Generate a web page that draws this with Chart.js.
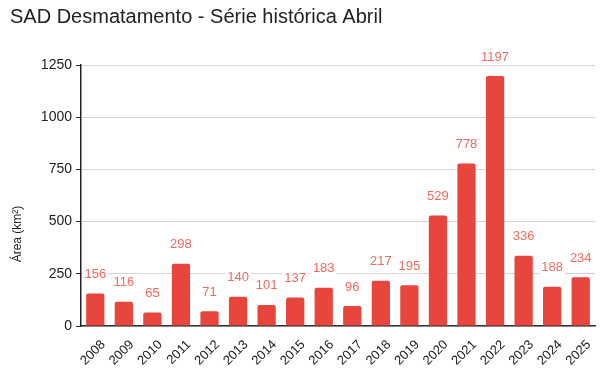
<!DOCTYPE html>
<html>
<head>
<meta charset="utf-8">
<script src="https://cdn.jsdelivr.net/npm/chart.js@4"></script>
<style>
  html, body { margin: 0; padding: 0; background: #fff; }
  #wrap { width: 602px; height: 372px; }
</style>
</head>
<body>
<div id="wrap"><canvas id="c" width="602" height="372"></canvas></div>
<script>
  // SAD Desmatamento - abril, área em km²
  var YEARS = ["2008", "2009", "2010", "2011", "2012", "2013", "2014", "2015", "2016",
    "2017", "2018", "2019", "2020", "2021", "2022", "2023", "2024", "2025"];
  var AREA = [156, 116, 65, 298, 71, 140, 101, 137, 183, 96, 217, 195, 529, 778, 1197, 336, 188, 234];
  var Y_TICKS = [0, 250, 500, 750, 1000, 1250];

  var BAR = "#e8453c", LABEL = "#f26a5e", FONT = "'Liberation Sans', Arial, sans-serif";

  // rótulos de valor acima das barras (fundo branco corta a grade)
  var valueLabels = {
    id: "valueLabels",
    afterDatasetsDraw: function (chart) {
      var ctx = chart.ctx, meta = chart.getDatasetMeta(0);
      ctx.save();
      ctx.font = "13px " + FONT;
      ctx.textAlign = "center";
      ctx.textBaseline = "middle";
      meta.data.forEach(function (bar, i) {
        var txt = String(AREA[i]);
        var y = bar.y - 19;
        var w = ctx.measureText(txt).width;
        ctx.fillStyle = "#fff";
        ctx.fillRect(bar.x - w / 2 - 2, y - 7, w + 4, 14);
        ctx.fillStyle = LABEL;
        ctx.fillText(txt, bar.x, y);
      });
      ctx.restore();
    }
  };

  // título do eixo Y (fica um pouco abaixo do centro, como no original)
  var yTitle = {
    id: "yTitle",
    afterDraw: function (chart) {
      var ctx = chart.ctx;
      ctx.save();
      ctx.translate(18, 234);
      ctx.rotate(-Math.PI / 2);
      ctx.font = "12px " + FONT;
      ctx.fillStyle = "#222";
      ctx.textAlign = "center";
      ctx.textBaseline = "middle";
      ctx.fillText("Área (km²)", 0, 0);
      ctx.restore();
    }
  };

  new Chart(document.getElementById("c"), {
    type: "bar",
    data: {
      labels: YEARS,
      datasets: [{
        data: AREA,
        backgroundColor: BAR,
        borderRadius: 2,
        categoryPercentage: 0.64,
        barPercentage: 1
      }]
    },
    options: {
      responsive: false,
      animation: false,
      layout: { padding: { left: 10, right: 7, top: 0, bottom: 0 } },
      plugins: {
        legend: { display: false },
        tooltip: { enabled: false },
        title: {
          display: true,
          text: "SAD Desmatamento - Série histórica Abril",
          align: "start",
          color: "#222",
          font: { family: FONT, size: 20, weight: "normal" },
          padding: { top: 5, bottom: 36 }
        }
      },
      scales: {
        x: {
          grid: { display: false },
          border: { color: "#333", width: 1.5 },
          ticks: {
            color: "#222", font: { family: FONT, size: 13 },
            minRotation: 45, maxRotation: 45, autoSkip: false, labelOffset: 8
          },
          afterFit: function (s) { s.height = 46; }
        },
        y: {
          min: 0, max: 1250,
          afterBuildTicks: function (s) { s.ticks = Y_TICKS.map(function (v) { return { value: v }; }); },
          grid: { color: "#d4d4d4", tickColor: "#333", tickLength: 5, lineWidth: 1 },
          border: { color: "#222", width: 1.5 },
          ticks: {
            color: "#222", font: { family: FONT, size: 14 }, padding: 4,
            callback: function (v) { return String(v); }
          },
          afterFit: function (s) { s.width = 71; }
        }
      }
    },
    plugins: [valueLabels, yTitle]
  });
</script>
</body>
</html>
